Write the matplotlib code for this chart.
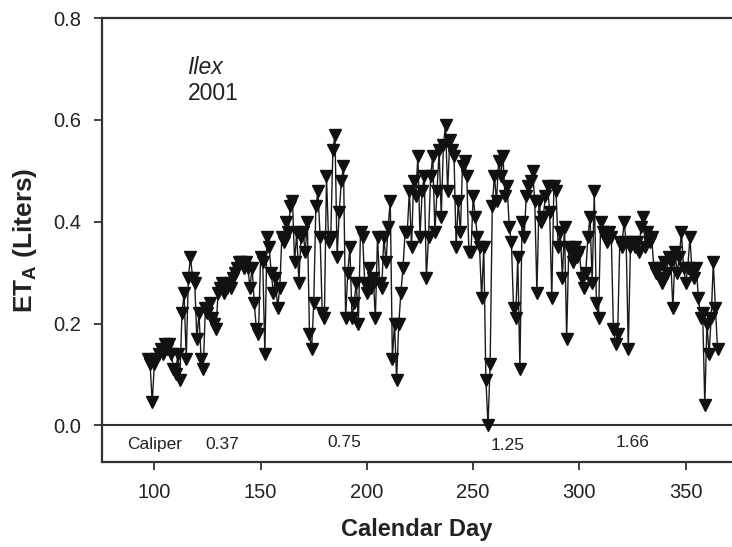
import numpy as np
import matplotlib
matplotlib.use("Agg")
import matplotlib.pyplot as plt

plt.rcParams['font.family'] = ['Liberation Sans', 'DejaVu Sans']
plt.rcParams['mathtext.fontset'] = 'custom'
plt.rcParams['mathtext.rm'] = 'Liberation Sans'
plt.rcParams['mathtext.bf'] = 'Liberation Sans:bold'

# daily ET_A values (liters), calendar day 97 onward
eta = [
    0.13, 0.12, 0.045, 0.12, 0.13, 0.14, 0.15, 0.14, 0.16, 0.15,   # 97
    0.16, 0.14, 0.11, 0.10, 0.14, 0.09, 0.22, 0.26, 0.13, 0.29,    # 107
    0.33, 0.29, 0.28, 0.17, 0.22, 0.13, 0.11, 0.23, 0.22, 0.24,    # 117
    0.21, 0.20, 0.19, 0.26, 0.27, 0.28, 0.26, 0.27, 0.28, 0.27,    # 127
    0.29, 0.30, 0.31, 0.32, 0.32, 0.31, 0.32, 0.31, 0.27, 0.31,    # 137
    0.24, 0.19, 0.18, 0.33, 0.32, 0.14, 0.37, 0.35, 0.30, 0.26,    # 147
    0.29, 0.23, 0.27, 0.37, 0.36, 0.40, 0.38, 0.43, 0.44, 0.32,    # 157
    0.38, 0.28, 0.37, 0.38, 0.34, 0.40, 0.18, 0.15, 0.24, 0.43,    # 167
    0.46, 0.37, 0.22, 0.21, 0.49, 0.36, 0.37, 0.54, 0.57, 0.33,    # 177
    0.42, 0.48, 0.51, 0.21, 0.30, 0.35, 0.21, 0.24, 0.28, 0.20,    # 187
    0.38, 0.37, 0.28, 0.26, 0.31, 0.27, 0.29, 0.21, 0.37, 0.28,    # 197
    0.27, 0.37, 0.32, 0.39, 0.44, 0.13, 0.20, 0.09, 0.20, 0.26,    # 207
    0.31, 0.38, 0.38, 0.46, 0.35, 0.48, 0.45, 0.53, 0.37, 0.46,    # 217
    0.49, 0.29, 0.37, 0.49, 0.53, 0.38, 0.46, 0.54, 0.41, 0.55,    # 227
    0.59, 0.46, 0.56, 0.54, 0.53, 0.35, 0.44, 0.38, 0.51, 0.52,    # 237
    0.49, 0.34, 0.34, 0.45, 0.41, 0.37, 0.35, 0.25, 0.35, 0.09,    # 247
    0.00, 0.12, 0.43, 0.49, 0.44, 0.52, 0.49, 0.53, 0.45, 0.47,    # 257
    0.39, 0.36, 0.23, 0.21, 0.33, 0.11, 0.40, 0.37, 0.45, 0.47,    # 267
    0.48, 0.50, 0.44, 0.26, 0.44, 0.40, 0.41, 0.45, 0.47, 0.42,    # 277
    0.25, 0.47, 0.46, 0.35, 0.38, 0.29, 0.39, 0.17, 0.35, 0.34,    # 287
    0.32, 0.35, 0.33, 0.34, 0.29, 0.27, 0.30, 0.37, 0.41, 0.28,    # 297
    0.46, 0.24, 0.21, 0.40, 0.38, 0.37, 0.36, 0.38, 0.37, 0.19,    # 307
    0.16, 0.18, 0.36, 0.35, 0.40, 0.36, 0.15, 0.35, 0.36, 0.35,    # 317
    0.36, 0.34, 0.39, 0.41, 0.35, 0.38, 0.36, 0.37, 0.31, 0.30,    # 327
    0.31, 0.29, 0.28, 0.32, 0.30, 0.33, 0.32, 0.23, 0.34, 0.30,    # 337
    0.33, 0.38, 0.31, 0.28, 0.31, 0.37, 0.30, 0.29, 0.31, 0.25,    # 347
    0.21, 0.22, 0.04, 0.20, 0.14, 0.21, 0.32, 0.23, 0.15,          # 357
]
days = np.arange(97, 97 + len(eta))

caliper_days = [132, 189.5, 266.3, 324.8]
caliper_vals = ['0.37', '0.75', '1.25', '1.66']
caliper_y = [-0.037, -0.033, -0.039, -0.033]

fig = plt.figure(figsize=(7.32, 5.47), dpi=100)
ax = fig.add_axes([0.139, 0.156, 0.861, 0.811])

ax.plot(days, eta, color='#1a1a1a', lw=1.0, marker='v', ms=8,
        markerfacecolor='#111111', markeredgecolor='#111111', zorder=3)

ax.axhline(0, color='#333333', lw=1.5, zorder=2)

ax.set_xlim(75.25, 371.8)
ax.set_ylim(-0.0713, 0.8)
ax.set_xticks([100, 150, 200, 250, 300, 350])
ax.set_yticks([0.0, 0.2, 0.4, 0.6, 0.8])
ax.set_yticklabels(['0.0', '0.2', '0.4', '0.6', '0.8'])
ax.tick_params(labelsize=14.5, direction='out', length=6, width=1.3,
               color='#333333', labelcolor='#222222')
ax.tick_params(axis='x', pad=9)
ax.tick_params(axis='y', pad=9)

for s in ['left', 'top', 'bottom']:
    ax.spines[s].set_color('#333333')
    ax.spines[s].set_linewidth(1.6)
ax.spines['right'].set_visible(False)

ax.set_xlabel('Calendar Day', fontsize=17, fontweight='bold', labelpad=12, color='#222222')
ax.set_ylabel(r'ET$_\mathbf{A}$ (Liters)', fontsize=19, fontweight='bold', labelpad=10, color='#222222')

ax.text(115.6, 0.7025, 'Ilex', fontsize=16.5, style='italic', va='center', color='#222222')
ax.text(115.6, 0.651, '2001', fontsize=16.5, va='center', color='#222222')

ax.text(87.3, -0.037, 'Caliper', fontsize=12.5, va='center', color='#222222')
for d, v, yy in zip(caliper_days, caliper_vals, caliper_y):
    ax.text(d, yy, v, fontsize=12.5, ha='center', va='center', color='#222222')

fig.savefig('out.png', dpi=100)
